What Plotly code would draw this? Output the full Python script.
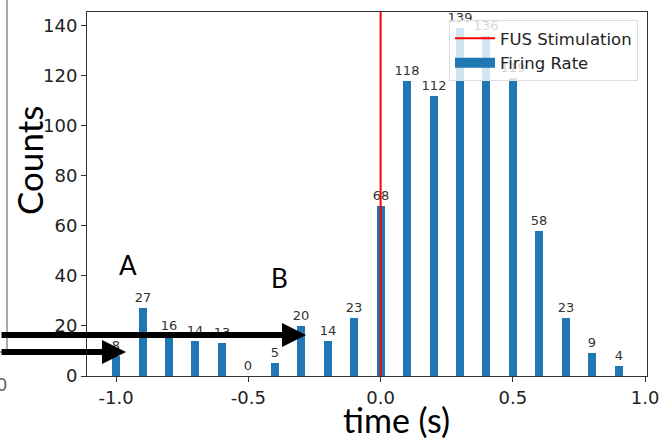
import plotly.graph_objects as go

times = [-1.0, -0.9, -0.8, -0.7, -0.6, -0.5, -0.4, -0.3, -0.2, -0.1,
         0.0, 0.1, 0.2, 0.3, 0.4, 0.5, 0.6, 0.7, 0.8, 0.9]
counts = [8, 27, 16, 14, 13, 0, 5, 20, 14, 23,
          68, 118, 112, 139, 136, 119, 58, 23, 9, 4]
stim_time = 0.0
x_ticks = [-1.0, -0.5, 0.0, 0.5, 1.0]
x_tick_labels = ["-1.0", "-0.5", "0.0", "0.5", "1.0"]
y_ticks = [0, 20, 40, 60, 80, 100, 120, 140]
y_max = 145.4

W, H = 662, 439
L, R, T, B = 87, 15, 12, 63
pw, ph = W - L - R, H - T - B


def px(x):
    return (x - L) / pw


def py(y):
    return (H - B - y) / ph


fig = go.Figure()
fig.add_trace(go.Bar(
    x=times, y=counts, width=0.03, name="Firing Rate", showlegend=False,
    marker=dict(color="#1f77b4", line=dict(width=0)),
    text=[str(c) for c in counts], textposition="outside", constraintext="none",
    textfont=dict(size=13, color="#333333", family="DejaVu Sans"),
    cliponaxis=False,
))
fig.add_trace(go.Scatter(
    x=[stim_time, stim_time], y=[0, y_max], mode="lines",
    line=dict(color="red", width=2), name="FUS Stimulation",
))
# legend-only entry for the bars (wide patch like the reference)
fig.add_trace(go.Scatter(
    x=[None], y=[None], mode="lines", name="Firing Rate",
    line=dict(color="#1f77b4", width=10),
))

fig.update_layout(
    width=W, height=H,
    margin=dict(l=L, r=R, t=T, b=B, autoexpand=False),
    plot_bgcolor="white", paper_bgcolor="white",
    showlegend=True,
    legend=dict(x=px(638), y=py(20), xanchor="right", yanchor="top",
                bgcolor="rgba(255,255,255,0.8)", bordercolor="#dddddd",
                borderwidth=1, font=dict(size=16.5, family="DejaVu Sans", color="#222"),
                itemwidth=40, tracegroupgap=0),
    bargap=0,
    font=dict(family="DejaVu Sans", color="#222222"),
)
fig.update_xaxes(range=[-1.11, 1.007], tickvals=x_ticks, ticktext=x_tick_labels,
                 ticks="outside", ticklen=5, tickcolor="#333", tickfont=dict(size=18),
                 showline=True, linecolor="#333", linewidth=1, mirror=True,
                 showgrid=False, zeroline=False, automargin=False)
fig.update_yaxes(range=[0, y_max], tickvals=y_ticks,
                 ticks="outside", ticklen=5, tickcolor="#333", tickfont=dict(size=18),
                 showline=True, linecolor="#333", linewidth=1, mirror=True,
                 showgrid=False, zeroline=False, automargin=False)


def label(text, x, y, size, angle=0, color="black", family="Lato"):
    fig.add_annotation(text=text, xref="paper", yref="paper", x=px(x), y=py(y),
                       xanchor="center", yanchor="middle", showarrow=False,
                       textangle=angle, font=dict(size=size, family=family, color=color))


label("Counts", 29, 160, 35, angle=-90)
label("time (s)", 396, 419, 34)
label("A", 128, 265, 26)
label("B", 279, 278, 26)
label("0", 1, 384, 18, color="#666", family="DejaVu Sans")

for tip_x, yy in [(306, 335), (126, 352)]:
    fig.add_annotation(text="", xref="paper", yref="paper", x=px(tip_x), y=py(yy),
                       ax=-tip_x, ay=0, showarrow=True, arrowhead=2, arrowsize=0.8,
                       arrowwidth=6, arrowcolor="black")

# left-edge fragment of neighbouring panel
fig.add_shape(type="line", xref="paper", yref="paper", x0=px(7), x1=px(7),
              y0=py(0), y1=py(352), line=dict(color="#aaa", width=2))
fig.add_shape(type="line", xref="paper", yref="paper", x0=px(0), x1=px(7),
              y0=py(352), y1=py(352), line=dict(color="#aaa", width=2))

fig.write_html("out.html", config={"displayModeBar": False},
               post_script="document.body.style.margin='0';")
